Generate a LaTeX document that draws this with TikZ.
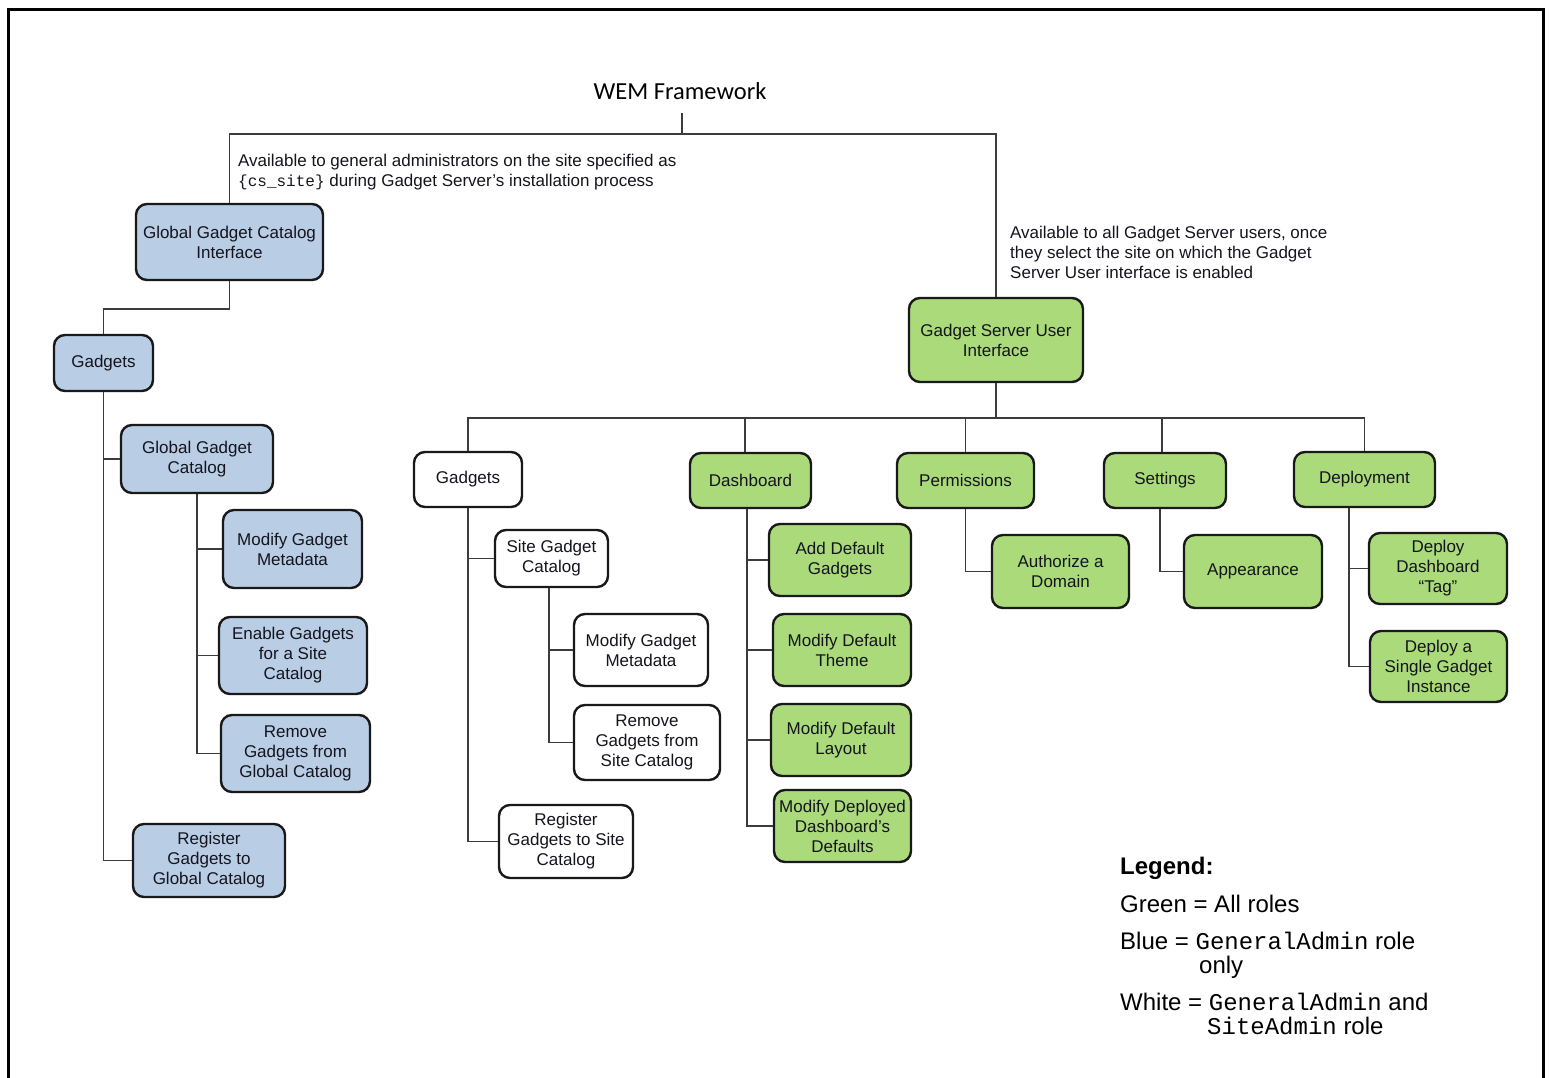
\documentclass[tikz,border=0pt]{standalone}
\usepackage{fontspec}
\setmainfont{Liberation Sans}
\setmonofont{Liberation Mono}
\newfontfamily\titlefont{Carlito}
\definecolor{boxblue}{RGB}{185,205,228}
\definecolor{boxgreen}{RGB}{170,218,122}
\definecolor{edgecol}{RGB}{25,25,25}
\definecolor{conncol}{RGB}{60,60,60}
\definecolor{txtcol}{RGB}{20,20,30}
\tikzset{
  box/.style={draw=edgecol, line width=2.4pt, rounded corners=11pt, align=center,
    inner sep=0pt, font=\fontsize{17}{20}\selectfont, text=txtcol},
  bluebox/.style={box, fill=boxblue},
  greenbox/.style={box, fill=boxgreen},
  whitebox/.style={box, fill=white},
  conn/.style={draw=conncol, line width=1.6pt},
  note/.style={align=left, inner sep=0pt, anchor=north west, font=\fontsize{17}{20}\selectfont, text=txtcol},
  legend/.style={inner sep=0pt, anchor=base west, font=\fontsize{24}{24}\selectfont},
  sz/.style 2 args={minimum width=#1pt, minimum height=#2pt}
}
\begin{document}
\begin{tikzpicture}[x=1pt,y=-1pt]
\useasboundingbox (0,0) rectangle (1549,1078);
% frame
\draw[line width=3pt, black] (8,1080) -- (8,10) -- (1543,10) -- (1543,1080);

% title
\node[inner sep=0pt, font=\titlefont\fontsize{24.5}{26}\selectfont] (wem) at (680,91) {WEM Framework};
\coordinate (wemfoot) at (682,113);
\coordinate (top) at (682,134);

% annotations
\node[note] (noteL) at (238,154) {Available to general administrators on the site specified as\\{\ttfamily\fontsize{16}{20}\selectfont\{cs\_site\}} during Gadget Server’s installation process};
\node[note] (noteR) at (1010,226) {Available to all Gadget Server users, once\\they select the site on which the Gadget\\Server User interface is enabled};

% blue branch
\node[bluebox, sz={187}{76}] (ggci) at (229.5,242) {Global Gadget Catalog\\Interface};
\node[bluebox, sz={99}{56}] (gadL) at (103.5,363) {Gadgets};
\node[bluebox, sz={152}{68}] (ggc) at (197,459) {Global Gadget\\Catalog};
\node[bluebox, sz={139}{78}] (mgmB) at (292.5,549) {Modify Gadget\\Metadata};
\node[bluebox, sz={148}{77}] (enb) at (293,655.5) {Enable Gadgets\\for a Site\\Catalog};
\node[bluebox, sz={149}{77}] (remG) at (295.5,753.5) {Remove\\Gadgets from\\Global Catalog};
\node[bluebox, sz={152}{73}] (regG) at (209,860.5) {Register\\Gadgets to\\Global Catalog};

% green root
\node[greenbox, sz={174}{84}] (gsui) at (996,340) {Gadget Server User\\Interface};

% second level
\node[whitebox, sz={108}{55}] (gadW) at (468,479.5) {Gadgets};
\node[greenbox, sz={121}{55}] (dash) at (750.5,480.5) {Dashboard};
\node[greenbox, sz={137}{55}] (perm) at (965.5,480.5) {Permissions};
\node[greenbox, sz={122}{55}] (sett) at (1165,480.5) {Settings};
\node[greenbox, sz={141}{55}] (dep) at (1364.5,479.5) {Deployment};

% white children
\node[whitebox, sz={113}{57}] (sgc) at (551.5,558.5) {Site Gadget\\Catalog};
\node[whitebox, sz={134}{72}] (mgmW) at (641,650) {Modify Gadget\\Metadata};
\node[whitebox, sz={146}{75}] (remS) at (647,742.5) {Remove\\Gadgets from\\Site Catalog};
\node[whitebox, sz={134}{73}] (regS) at (566,841.5) {Register\\Gadgets to Site\\Catalog};

% dashboard children
\node[greenbox, sz={142}{72}] (add) at (840,560) {Add Default\\Gadgets};
\node[greenbox, sz={138}{72}] (theme) at (842,650) {Modify Default\\Theme};
\node[greenbox, sz={140}{72}] (layout) at (841,740) {Modify Default\\Layout};
\node[greenbox, sz={137}{72}] (deployed) at (842.5,826) {Modify Deployed\\Dashboard’s\\Defaults};

% permissions / settings / deployment children
\node[greenbox, sz={137}{73}] (auth) at (1060.5,571.5) {Authorize a\\Domain};
\node[greenbox, sz={138}{73}] (app) at (1253,571.5) {Appearance};
\node[greenbox, sz={138}{71}] (ddt) at (1438,568.5) {Deploy\\Dashboard\\“Tag”};
\node[greenbox, sz={137}{71}] (dsgi) at (1438.5,666.5) {Deploy a\\Single Gadget\\Instance};

% connectors: top
\draw[conn] (wemfoot) -- (top);
\draw[conn] (top) -| (ggci.north);
\draw[conn] (top) -| (gsui.north);

% blue tree
\draw[conn] (ggci.south) -- ++(0,28) -| (gadL.north);
\draw[conn] (gadL.south) |- (ggc.west);
\draw[conn] (gadL.south) |- (regG.west);
\draw[conn] (ggc.south) |- (mgmB.west);
\draw[conn] (ggc.south) |- (enb.west);
\draw[conn] (ggc.south) |- (remG.west);

% green tree
\coordinate (bus) at (996,418);
\draw[conn, line width=2.6pt] (gsui.south) -- (bus);
\draw[conn] (bus) -| (gadW.north);
\draw[conn] (bus) -| ([xshift=-5.5pt]dash.north);
\draw[conn] (bus) -| (perm.north);
\draw[conn] (bus) -| ([xshift=-3pt]sett.north);
\draw[conn] (bus) -| (dep.north);

\draw[conn] (gadW.south) |- (sgc.west);
\draw[conn] (gadW.south) |- (regS.west);
\draw[conn] ([xshift=-2.5pt]sgc.south) |- (mgmW.west);
\draw[conn] ([xshift=-2.5pt]sgc.south) |- (remS.west);

\draw[conn] ([xshift=-3.5pt]dash.south) |- (add.west);
\draw[conn] ([xshift=-3.5pt]dash.south) |- (theme.west);
\draw[conn] ([xshift=-3.5pt]dash.south) |- (layout.west);
\draw[conn] ([xshift=-3.5pt]dash.south) |- (deployed.west);

\draw[conn] (perm.south) |- (auth.west);
\draw[conn] ([xshift=-5pt]sett.south) |- (app.west);
\draw[conn] ([xshift=-15.5pt]dep.south) |- (ddt.west);
\draw[conn] ([xshift=-15.5pt]dep.south) |- (dsgi.west);

% legend
\node[legend, font=\bfseries\fontsize{24}{24}\selectfont] (lg0) at (1120,874.5) {Legend:};
\node[legend] (lg1) at (1120,912.5) {Green = All roles};
\node[legend] (lg2) at (1120,949.5) {Blue = {\ttfamily GeneralAdmin} role};
\node[legend] (lg2b) at (1199,973.5) {only};
\node[legend] (lg3) at (1120,1010.5) {White = {\ttfamily GeneralAdmin} and};
\node[legend] (lg3b) at (1207,1034.5) {{\ttfamily SiteAdmin} role};
\end{tikzpicture}
\end{document}
